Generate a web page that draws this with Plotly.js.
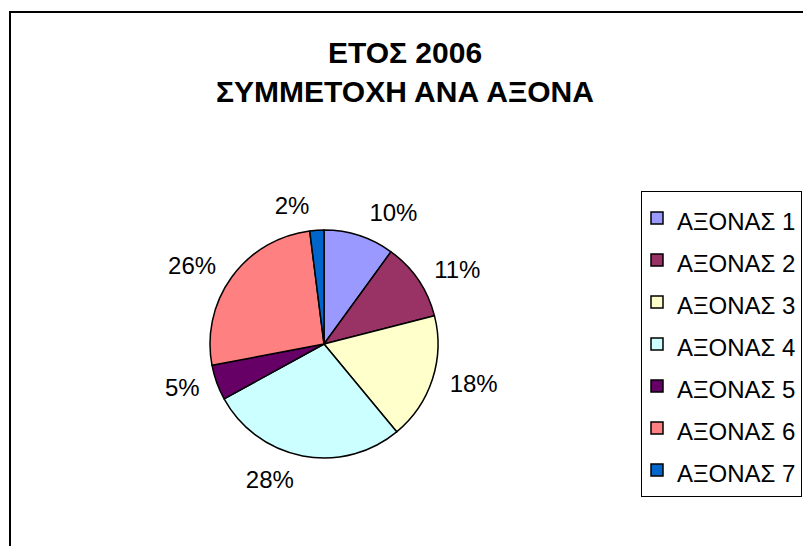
<!DOCTYPE html>
<html>
<head>
<meta charset="utf-8">
<script src="https://cdn.plot.ly/plotly-3.0.1.min.js"></script>
<style>body{margin:0;background:#fff}</style>
</head>
<body>
<div id="chart" style="width:803px;height:546px"></div>
<script>
const categories = ['ΑΞΟΝΑΣ 1','ΑΞΟΝΑΣ 2','ΑΞΟΝΑΣ 3','ΑΞΟΝΑΣ 4','ΑΞΟΝΑΣ 5','ΑΞΟΝΑΣ 6','ΑΞΟΝΑΣ 7'];
const shares = [10, 11, 18, 28, 5, 26, 2];
const colors = ['#9999FF','#993366','#FFFFCC','#CCFFFF','#660066','#FF8080','#0066CC'];
const titleLines = ['ΕΤΟΣ 2006', 'ΣΥΜΜΕΤΟΧΗ ΑΝΑ ΑΞΟΝΑ'];

const W = 803, H = 546;
const font = 'Liberation Sans, Arial, sans-serif';
const cx = 324, cy = 344, R = 114, RL = 125;
const legendLabels = categories.map(c => '<span style="font-size:24px">' + c + '</span>');

// label carrier: same data, transparent, slightly larger radius so the
// outside percentage labels sit where the reference places them
const labelTrace = {
  type: 'pie',
  labels: legendLabels,
  values: shares,
  sort: false, direction: 'clockwise', rotation: 0,
  marker: {colors: colors.map(() => 'rgba(0,0,0,0)'), line: {width: 0}},
  textinfo: 'percent',
  texttemplate: '%{percent:.0%}',
  textposition: 'outside',
  outsidetextfont: {family: font, size: 24, color: '#000'},
  domain: {x: [(cx-RL)/W, (cx+RL)/W], y: [(H-cy-RL)/H, (H-cy+RL)/H]},
  showlegend: false,
  hoverinfo: 'skip'
};

const pieTrace = {
  type: 'pie',
  labels: legendLabels,
  values: shares,
  sort: false, direction: 'clockwise', rotation: 0,
  marker: {colors: colors, line: {color: '#000', width: 1.5}},
  textinfo: 'none',
  domain: {x: [(cx-R)/W, (cx+R)/W], y: [(H-cy-R)/H, (H-cy+R)/H]},
  hoverinfo: 'label+percent'
};

const layout = {
  width: W, height: H,
  margin: {l: 0, r: 0, t: 0, b: 0, autoexpand: false},
  paper_bgcolor: '#fff',
  font: {family: font, color: '#000'},
  title: {
    text: titleLines.join('<br>'),
    font: {family: font, size: 30, color: '#000', weight: 'bold'},
    x: 405/W, xanchor: 'center', xref: 'paper',
    y: 1 - 63/H, yanchor: 'top', yref: 'container'
  },
  showlegend: true,
  legend: {
    x: 641/W, xanchor: 'left', y: 1 - 191/H, yanchor: 'top',
    indentation: -5,
    bgcolor: '#fff', bordercolor: '#000', borderwidth: 1,
    font: {family: font, size: 30, color: '#000'}
  },
  shapes: [{
    type: 'rect', xref: 'paper', yref: 'paper',
    x0: 10/W, x1: 1.05, y0: -0.05, y1: 1 - 12/H,
    line: {color: '#000', width: 2}, fillcolor: 'rgba(0,0,0,0)'
  }]
};

Plotly.newPlot('chart', [labelTrace, pieTrace], layout, {displayModeBar: false, staticPlot: true});
</script>
</body>
</html>
